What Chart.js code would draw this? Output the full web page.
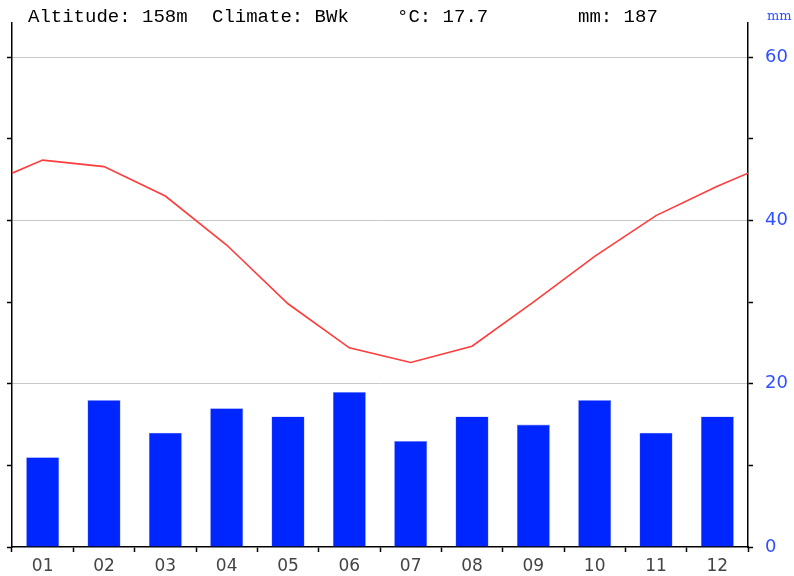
<!DOCTYPE html>
<html>
<head>
<meta charset="utf-8">
<script src="https://cdn.jsdelivr.net/npm/chart.js@4/dist/chart.umd.min.js"></script>
<style>
  body { margin: 0; background: #fff; }
  #wrap { width: 794px; height: 576px; }
</style>
</head>
<body>
<div id="wrap"><canvas id="myChart" width="794" height="576"></canvas></div>
<script>
// data
const months = ['01','02','03','04','05','06','07','08','09','10','11','12'];
const precip = [11, 18, 14, 17, 16, 19, 13, 16, 15, 18, 14, 16];   // mm
const temp = [23.7, 23.3, 21.5, 18.5, 14.9, 12.2, 11.3, 12.3, 15.0, 17.8, 20.3, 22.1]; // °C
const tempEdge = 22.9;   // value where the red line meets both outer axes
const mmTicks = [0, 10, 20, 30, 40, 50, 60];
const mmLabels = [0, 20, 40, 60];
const tempTicks = [0, 5, 10, 15, 20, 25, 30];
const headerTexts = ['Altitude: 158m', 'Climate: BWk', '°C: 17.7', 'mm: 187'];
const headerX = [28, 212, 397, 578];

const mmMax = 64.2;
const tempMax = mmMax / 2;

// red line gets an extra point at each outer edge
let tempPoints = [{x: 0.5, y: tempEdge}];
for (let i = 0; i < temp.length; i++) {
    tempPoints.push({x: i + 1, y: temp[i]});
}
tempPoints.push({x: 12.5, y: tempEdge});

const headerPlugin = {
    id: 'header',
    afterDraw(chart) {
        const c = chart.ctx;
        c.save();
        c.font = '19px "Liberation Mono", monospace';
        c.fillStyle = '#000';
        c.textBaseline = 'middle';
        c.textAlign = 'left';
        for (let i = 0; i < headerTexts.length; i++) {
            c.fillText(headerTexts[i], headerX[i], 17);
        }
        c.font = '13px "DejaVu Serif", serif';
        c.fillStyle = '#3050ff';
        c.fillText('mm', 767, 17);
        c.restore();
    }
};

var ctx = document.getElementById('myChart').getContext('2d');
var myChart = new Chart(ctx, {
    type: 'bar',
    data: {
        labels: months,
        datasets: [{
            type: 'line',
            label: 'Temp',
            data: tempPoints,
            xAxisID: 'xt',
            yAxisID: 'yt',
            borderColor: '#ff3b3b',
            borderWidth: 1.6,
            pointRadius: 0,
            tension: 0
        },
        {
            type: 'bar',
            label: 'Precip',
            data: precip,
            xAxisID: 'x',
            yAxisID: 'y',
            backgroundColor: '#0026ff',
            borderColor: '#8898ff',
            borderWidth: 0.6,
            grouped: false,
            barPercentage: 0.54,
            categoryPercentage: 1
        }]
    },
    options: {
        responsive: false,
        animation: false,
        layout: { padding: { top: 23, left: 0, right: 0, bottom: 0 } },
        plugins: { legend: { display: false }, tooltip: { enabled: false } },
        scales: {
            x: {
                type: 'category',
                position: 'bottom',
                offset: true,
                grid: { offset: true, drawOnChartArea: false, tickLength: 5, tickColor: '#000', tickWidth: 1.5 },
                border: { color: '#000', width: 1.5 },
                ticks: { color: '#444', font: { family: 'DejaVu Sans', size: 17 }, padding: 4, maxRotation: 0 },
                afterFit: function(scale) { scale.height = 29; }
            },
            xt: {
                type: 'linear',
                display: false,
                offset: false,
                min: 0.5,
                max: 12.5
            },
            yt: {
                type: 'linear',
                position: 'left',
                min: 0,
                max: tempMax,
                afterBuildTicks: function(scale) { scale.ticks = tempTicks.map(v => ({value: v})); },
                grid: { drawOnChartArea: false, tickLength: 5, tickColor: '#000', tickWidth: 1.5 },
                border: { color: '#000', width: 1.5 },
                ticks: { display: false },
                afterFit: function(scale) { scale.width = 12; }
            },
            y: {
                type: 'linear',
                position: 'right',
                min: 0,
                max: mmMax,
                afterBuildTicks: function(scale) { scale.ticks = mmTicks.map(v => ({value: v})); },
                grid: {
                    color: function(c) { return (c.tick && c.tick.value > 0 && mmLabels.includes(c.tick.value)) ? '#c8c8c8' : 'rgba(0,0,0,0)'; },
                    tickColor: '#000',
                    tickLength: 5,
                    tickWidth: 1.5,
                    lineWidth: 1
                },
                border: { color: '#000', width: 1.5 },
                ticks: {
                    color: '#3050ff',
                    font: { family: 'DejaVu Sans', size: 18 },
                    padding: 12,
                    callback: function(v) { return mmLabels.includes(v) ? String(v) : ''; }
                },
                afterFit: function(scale) { scale.width = 46; }
            }
        }
    },
    plugins: [headerPlugin]
});
</script>
</body>
</html>
